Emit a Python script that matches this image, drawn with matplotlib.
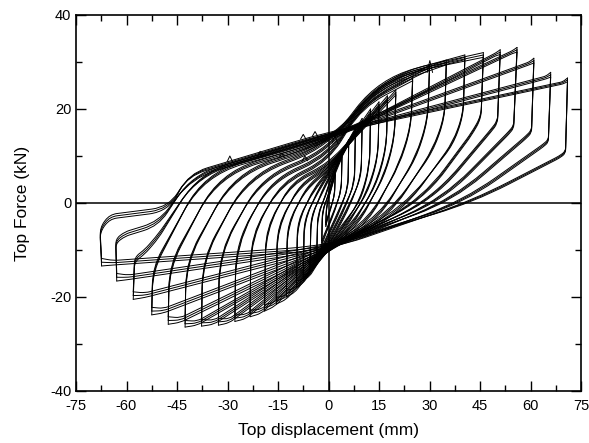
import numpy as np
import matplotlib
matplotlib.use('Agg')
import matplotlib.pyplot as plt
from matplotlib.path import Path
from matplotlib.patches import PathPatch
from matplotlib.ticker import MultipleLocator

plt.rcParams['font.family'] = ['Liberation Sans', 'DejaVu Sans']
plt.rcParams['axes.unicode_minus'] = False

# peaks of the first cycle at every displacement level (mm, kN)
pos_disp = [2, 4, 6, 8, 10, 12.5, 15, 17.5, 20, 25, 30, 35, 40.5, 46, 51, 56, 61, 66, 71]
pos_force = [6.5, 10.5, 13.5, 16, 18, 20, 21.5, 22.8, 24, 27, 29.3, 30.4, 31.5, 32, 32.6, 33.1, 30.8, 27.8, 26.6]
neg_disp = [-0.8, -2, -3.5, -5.5, -7.5, -9.5, -12.5, -15.5, -19, -23.3, -27.8, -32.7, -37.7,
            -42.6, -47.6, -52.5, -58, -62.9, -67.4]
neg_force = [-5, -9, -12, -14.5, -16.5, -18, -20, -21.5, -23, -24.2, -25.2, -26, -26.2,
             -26.4, -25.8, -23.8, -20.5, -16.6, -13.4]

# force lost from one repeated cycle to the next (3 cycles per level)
pos_drop = [0.3, 0.4, 0.4, 0.5, 0.5, 0.5, 0.5, 0.5, 0.5, 0.5, 0.5, 0.5, 0.5, 0.5, 0.5, 0.5, 0.5, 0.5, 0.4]
neg_drop = [0.4, 0.5, 0.6, 0.6, 0.6, 0.7, 0.7, 0.7, 0.7, 0.7, 0.7, 0.7, 0.7, 0.7, 0.8, 0.8, 0.8, 0.8, 0.8]
n_repeat = 3

# corner points of the branch going from the negative peak to the positive peak
up_corners = [
    [(-0.6, -1.0), (0.5, 2.5)],
    [(-1.8, -2.0), (0.0, 2.0), (1.0, 5.0)],
    [(-3.2, -3.0), (-0.8, 2.0), (1.0, 6.0)],
    [(-5.2, -3.5), (-2.0, 2.5), (0.8, 6.5)],
    [(-7.2, -4.0), (-3.0, 3.0), (0.5, 7.0)],
    [(-9.2, -4.5), (-4.5, 3.0), (0.0, 7.0)],
    [(-12.2, -5.0), (-6.5, 3.5), (0.0, 7.5)],
    [(-15.2, -5.5), (-8.5, 4.0), (0.0, 8.0)],
    [(-18.6, -6.0), (-11.0, 4.5), (0.0, 8.5)],
    [(-23.0, -7.5), (-14.0, 4.5), (0.0, 9.5), (10.0, 21.0)],
    [(-27.5, -9.0), (-17.0, 5.0), (0.0, 10.5), (11.5, 22.5)],
    [(-32.4, -11.0), (-20.0, 5.5), (0.0, 11.5), (13.0, 24.5)],
    [(-37.4, -12.5), (-24.0, 6.0), (0.0, 12.5), (15.0, 26.5)],
    [(-42.3, -13.0), (-28.0, 6.5), (0.0, 13.0), (18.0, 27.5)],
    [(-47.3, -14.0), (-32.5, 6.5), (0.0, 13.5), (49.6, 31.9)],
    [(-52.2, -14.5), (-37.0, 6.5), (0.0, 14.0), (54.6, 32.4)],
    [(-57.6, -12.5), (-54.5, -10.8), (-50.5, -7.5), (-38.5, 6.5), (0.0, 14.5), (59.6, 30.0)],
    [(-63.2, -8.6), (-60.5, -7.1), (-50.5, -4.9), (-40.5, 6.0), (0.0, 14.8), (64.6, 27.0)],
    [(-67.9, -6.2), (-65.0, -3.4), (-47.5, -1.8), (-41.5, 6.3), (0.0, 15.2), (69.6, 25.8)],
]

# corner points of the branch going from the positive peak to the negative peak
down_corners = [
    [(1.8, 2.0), (0.8, -1.0), (-0.3, -3.5)],
    [(3.8, 3.0), (2.0, -1.5), (-0.5, -6.0)],
    [(5.8, 3.5), (3.5, -1.5), (0.0, -7.0), (-2.5, -11.0)],
    [(7.7, 4.5), (5.0, -1.0), (0.5, -7.5), (-4.0, -13.5)],
    [(9.7, 6.0), (6.5, -0.5), (1.0, -8.0), (-5.5, -15.5)],
    [(12.2, 8.0), (9.5, 1.0), (4.0, -5.5), (-1.0, -10.5), (-7.5, -17.0)],
    [(14.7, 10.0), (11.5, 2.5), (5.5, -5.0), (0.0, -10.0), (-10.0, -19.0)],
    [(17.2, 12.0), (14.0, 4.0), (7.0, -5.0), (0.0, -10.0), (-12.5, -20.5)],
    [(19.6, 14.0), (16.5, 6.0), (9.0, -4.5), (0.0, -10.0), (-16.0, -22.0)],
    [(24.5, 16.5), (21.0, 8.5), (12.0, -4.0), (0.0, -10.0), (-20.0, -23.5)],
    [(29.5, 18.0), (26.0, 10.0), (15.0, -3.5), (0.0, -10.0), (-24.5, -24.6)],
    [(34.5, 18.5), (31.0, 11.5), (18.0, -3.0), (0.0, -10.0), (-29.5, -25.5)],
    [(40.0, 19.0), (37.0, 13.0), (22.0, -2.0), (0.0, -10.0), (-34.0, -25.8)],
    [(45.3, 18.5), (42.5, 15.0), (28.0, 1.0), (0.0, -10.0), (-39.0, -26.0)],
    [(50.2, 17.5), (48.0, 15.5), (31.0, 1.0), (0.0, -10.0), (-44.0, -25.4)],
    [(55.0, 16.5), (53.5, 15.2), (34.0, 1.0), (0.0, -10.0), (-49.0, -23.4)],
    [(60.3, 15.5), (58.5, 14.2), (37.0, 1.0), (0.0, -10.0), (-54.5, -20.1)],
    [(65.3, 13.5), (63.7, 12.5), (40.0, 0.5), (0.0, -10.0), (-59.5, -16.3)],
    [(70.4, 11.0), (68.5, 10.0), (43.0, 0.6), (0.0, -10.0), (-64.0, -13.2)],
]

# small load spikes seen on the reloading branches
spike_x = [-29.3, -20.3, -13.9, -7.0, -7.5, -4.0, 1.9, 30.1]
spike_f = [8.8, 9.8, 9.6, 9.0, 13.6, 14.2, 12.8, 27.8]
spike_h = [1.2, 1.2, 1.0, 1.0, 1.0, 1.0, 1.5, 2.5]

# pixels per data unit, used to round the corners evenly on screen
SX, SY = 3.367, 4.7


def rounded_path(pts):
    P = np.array(pts, float)
    scale = np.array([SX, SY])
    S = P * scale
    verts = [P[0]]
    codes = [Path.MOVETO]
    for i in range(1, len(P) - 1):
        a = S[i] - S[i - 1]
        b = S[i + 1] - S[i]
        la, lb = np.hypot(*a), np.hypot(*b)
        if la == 0 or lb == 0:
            continue
        d = min(0.45 * la, 0.45 * lb, 40)
        A = (S[i] - a / la * d) / scale
        B = (S[i] + b / lb * d) / scale
        verts += [A, P[i], B]
        codes += [Path.LINETO, Path.CURVE3, Path.CURVE3]
    verts.append(P[-1])
    codes.append(Path.LINETO)
    return Path(verts, codes)


def shifted(corners, r, pd, nd):
    out = []
    for x, f in corners:
        if f > 0:
            out.append((x, f - 0.6 * r * pd))
        else:
            out.append((x, f + 0.6 * r * nd))
    return out


fig = plt.figure(figsize=(5.89, 4.43), dpi=100)
ax = fig.add_axes([76 / 589, 1 - 391 / 443, 505 / 589, 376 / 443])

for i in range(len(pos_disp)):
    for r in range(n_repeat):
        pk_pos = (pos_disp[i], pos_force[i] - r * pos_drop[i])
        pk_neg = (neg_disp[i], neg_force[i] + r * neg_drop[i])
        up = [pk_neg] + shifted(up_corners[i], r, pos_drop[i], neg_drop[i]) + [pk_pos]
        down = [pk_pos] + shifted(down_corners[i], r, pos_drop[i], neg_drop[i]) + [pk_neg]
        for branch in (up, down):
            ax.add_patch(PathPatch(rounded_path(branch), fill=False, edgecolor='black',
                                   linewidth=0.7, capstyle='round', joinstyle='round'))

for x, f, h in zip(spike_x, spike_f, spike_h):
    ax.plot([x - 0.8, x, x + 0.8], [f, f + h, f], color='black', linewidth=0.7)

ax.axhline(0, color='black', linewidth=1.1)
ax.axvline(0, color='black', linewidth=1.1)

ax.set_xlim(-75, 75)
ax.set_ylim(-40, 40)
ax.set_xticks(np.arange(-75, 76, 15))
ax.set_yticks(np.arange(-40, 41, 20))
ax.xaxis.set_minor_locator(MultipleLocator(7.5))
ax.yaxis.set_minor_locator(MultipleLocator(10))
ax.tick_params(which='both', direction='in', top=True, right=True, width=1.0, labelsize=10.5)
ax.tick_params(which='major', length=7)
ax.tick_params(which='minor', length=4)
ax.tick_params(axis='x', pad=6)
for s in ax.spines.values():
    s.set_linewidth(1.2)

ax.set_xlabel('Top displacement (mm)', fontsize=12.5, labelpad=7)
ax.set_ylabel('Top Force (kN)', fontsize=12.5, labelpad=14)

fig.savefig('out.png', dpi=100)
